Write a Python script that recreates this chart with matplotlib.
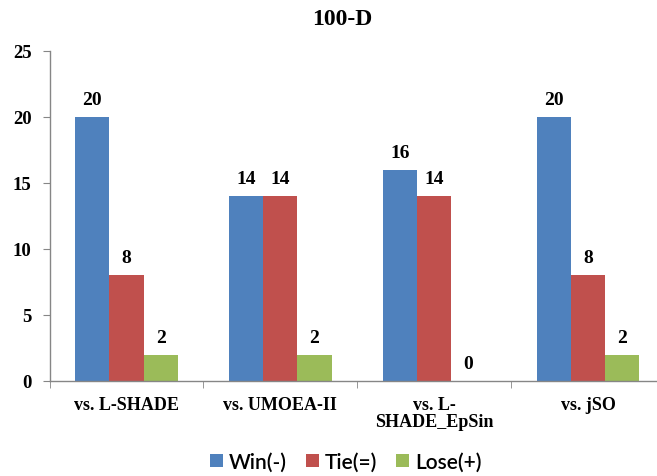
import matplotlib
matplotlib.use("Agg")
import matplotlib.pyplot as plt
import numpy as np
from matplotlib.patches import Patch

categories = ["vs. L-SHADE", "vs. UMOEA-II", "vs. L-\nSHADE_EpSin", "vs. jSO"]
series_names = ["Win(-)", "Tie(=)", "Lose(+)"]
win = [20, 14, 16, 20]
tie = [8, 14, 14, 8]
lose = [2, 2, 0, 2]
colors = ["#4F81BD", "#C0504D", "#9BBB59"]

serif = "Liberation Serif"
W, H = 657, 477
fig = plt.figure(figsize=(W / 100, H / 100), dpi=100)
left, right = 49.5, 665
bottom, top = 382, 52
ax = fig.add_axes([left / W, (H - bottom) / H, (right - left) / W, (bottom - top) / H])

x = np.arange(len(categories))
bw = 0.222
for i, (vals, c) in enumerate(zip([win, tie, lose], colors)):
    pos = x + (i - 1) * bw
    ax.bar(pos, vals, width=bw, color=c, edgecolor="none", zorder=2)
    for p, v in zip(pos, vals):
        ax.annotate(str(v), (p, v), xytext=(0, 6.5), textcoords="offset points",
                    ha="center", va="bottom", fontsize=14, fontweight="bold",
                    family=serif)

ax.set_xlim(-0.5, len(categories) - 0.5)
ax.set_ylim(0, 25)
ax.set_yticks([0, 5, 10, 15, 20, 25])
ax.set_yticklabels([str(v) for v in [0, 5, 10, 15, 20, 25]], fontsize=13.5,
                   fontweight="bold", family=serif)
ax.set_xticks(x)
ax.set_xticklabels(categories, fontsize=13, fontweight="bold", family=serif,
                   linespacing=0.95, va="top")
ax.tick_params(axis="x", length=0, pad=11)
ax.set_xticks(np.arange(-0.5, len(categories), 1.0), minor=True)
ax.tick_params(axis="x", which="minor", length=5, color="#868686", direction="out")
ax.tick_params(axis="y", length=5, color="#868686", direction="out", pad=8)

for s in ["top", "right"]:
    ax.spines[s].set_visible(False)
for s in ["left", "bottom"]:
    ax.spines[s].set_color("#868686")
    ax.spines[s].set_linewidth(1.0)

fig.text(342 / W, (H - 19.5) / H, "100-D", ha="center", va="center", fontsize=17,
         fontweight="bold", family=serif)

handles = [Patch(facecolor=c, edgecolor="none") for c in colors]
fig.legend(handles, series_names, loc="center", bbox_to_anchor=(346 / W, (H - 463) / H),
           ncol=3, frameon=False, prop={"family": "Lato", "size": 15, "weight": "semibold"},
           handlelength=0.62, handleheight=0.62, handletextpad=0.3, columnspacing=0.9,
           borderpad=0, borderaxespad=0)

fig.savefig("out.png", dpi=100)
